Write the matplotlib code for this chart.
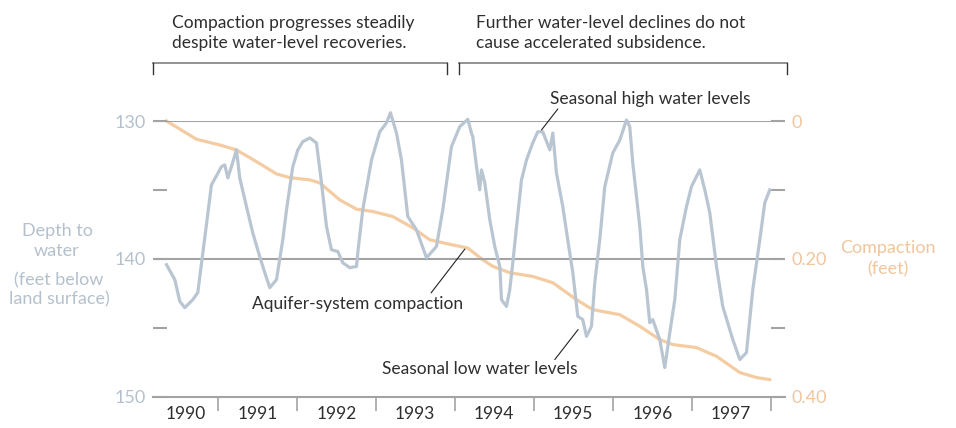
import matplotlib
matplotlib.use("Agg")
import matplotlib.pyplot as plt
import numpy as np

# ---------------- data ----------------
water_year = [1990.351, 1990.456, 1990.519, 1990.582, 1990.684, 1990.747, 1990.920,
              1991.047, 1991.089, 1991.127, 1991.173, 1991.237, 1991.278, 1991.363,
              1991.443, 1991.532, 1991.595, 1991.658, 1991.743, 1991.823, 1991.870,
              1991.949, 1992.013, 1992.076, 1992.165, 1992.249, 1992.313, 1992.376,
              1992.439, 1992.519, 1992.582, 1992.671, 1992.756, 1992.772, 1992.835,
              1992.946, 1993.051, 1993.135, 1993.186, 1993.262, 1993.325, 1993.405,
              1993.515, 1993.642, 1993.768, 1993.848, 1993.958, 1994.063, 1994.165,
              1994.211, 1994.228, 1994.275, 1994.316, 1994.338, 1994.380, 1994.443,
              1994.506, 1994.570, 1994.591, 1994.654, 1994.696, 1994.734, 1994.844,
              1994.908, 1994.987, 1995.051, 1995.114, 1995.203, 1995.241, 1995.287,
              1995.367, 1995.430, 1995.494, 1995.557, 1995.620, 1995.667, 1995.730,
              1995.772, 1995.835, 1995.899, 1996.000, 1996.089, 1996.173, 1996.215,
              1996.253, 1996.342, 1996.380, 1996.427, 1996.468, 1996.506, 1996.595,
              1996.658, 1996.722, 1996.785, 1996.848, 1996.933, 1996.996, 1997.101,
              1997.165, 1997.228, 1997.313, 1997.392, 1997.519, 1997.608, 1997.692,
              1997.772, 1997.861, 1997.924, 1997.987]
water_depth = [140.43, 141.52, 143.09, 143.55, 142.97, 142.46, 134.64,
               133.31, 133.19, 134.13, 133.31, 132.10, 134.13, 136.21,
               138.12, 139.86, 141.01, 142.10, 141.52, 138.62, 136.45,
               133.33, 132.10, 131.50, 131.23, 131.59, 134.49, 137.66,
               139.35, 139.47, 140.29, 140.65, 140.56, 139.57, 136.45,
               132.83, 130.78, 130.14, 129.40, 130.87, 132.83, 136.93,
               137.90, 139.93, 139.11, 136.45, 131.86, 130.41, 129.88,
               130.87, 131.14, 133.31, 135.00, 133.55, 134.49, 137.17,
               139.11, 140.56, 142.97, 143.46, 142.25, 140.29, 134.28,
               132.83, 131.59, 130.78, 130.78, 132.10, 130.87, 133.77,
               136.21, 138.62, 141.01, 144.18, 144.42, 145.63, 144.91,
               141.74, 138.62, 134.76, 132.32, 131.38, 129.93, 130.41,
               133.04, 137.66, 140.56, 142.25, 144.64, 144.42, 145.87,
               147.90, 145.36, 142.97, 138.62, 136.21, 134.76, 133.55,
               135.00, 136.67, 140.56, 143.46, 145.87, 147.32, 146.81,
               142.25, 138.62, 135.94, 135.00]

comp_year = [1990.351, 1990.730, 1991.025, 1991.237, 1991.490, 1991.743, 1991.911,
             1992.165, 1992.291, 1992.544, 1992.756, 1992.962, 1993.215, 1993.468,
             1993.684, 1993.895, 1994.165, 1994.354, 1994.481, 1994.696, 1994.987,
             1995.241, 1995.540, 1995.747, 1996.089, 1996.342, 1996.595, 1996.759,
             1997.059, 1997.313, 1997.608, 1997.819, 1997.987]
comp_feet = [0.000, 0.0265, 0.0348, 0.042, 0.059, 0.0768, 0.0822,
             0.0855, 0.0899, 0.1145, 0.128, 0.1314, 0.1387, 0.155,
             0.1725, 0.178, 0.1845, 0.2014, 0.211, 0.2203, 0.2257,
             0.2348, 0.2594, 0.2739, 0.2812, 0.2981, 0.3174, 0.3246,
             0.329, 0.3416, 0.3652, 0.3725, 0.3754]

year_labels = ["1990", "1991", "1992", "1993", "1994", "1995", "1996", "1997"]
year_label_pos = [1990.59, 1991.5, 1992.5, 1993.5, 1994.5, 1995.5, 1996.5, 1997.5]
year_ticks = [1991, 1992, 1993, 1994, 1995, 1996, 1997, 1998]
depth_ticks = [130, 135, 140, 145, 150]
depth_labels = ["130", "", "140", "", "150"]
comp_ticks = [0, 0.1, 0.2, 0.3, 0.4]
comp_labels = ["0", "", "0.20", "", "0.40"]

# ---------------- style ----------------
plt.rcParams['font.family'] = ['Lato', 'DejaVu Sans']
W, H = 956, 428
BLUE = '#b9c6d2'
BLUE_TXT = '#b4c1cd'
ORANGE = '#f4cca2'
ORANGE_TXT = '#f0c69c'
GRID = '#a3a3a3'
TXT = '#2e2e2e'
FS = 12.5

fig = plt.figure(figsize=(W / 100, H / 100), dpi=100)
def px(x, y):
    return (x / W, 1 - y / H)

ax = fig.add_axes([153 / W, 1 - 396.5 / H, (785 - 153) / W, (396.5 - 121) / H])
ax.set_xlim(1990.18, 1998.18)
ax.set_ylim(150, 130)
for s in ['top', 'left', 'right']:
    ax.spines[s].set_visible(False)
ax.spines['bottom'].set_color(GRID)
ax.spines['bottom'].set_linewidth(1.5)
ax.axhline(130, color=GRID, lw=1.5, zorder=1)
ax.axhline(140, color=GRID, lw=1.5, zorder=1)

ax.set_xticks(year_ticks)
ax.set_xticklabels([])
ax.set_xticks(year_label_pos, minor=True)
ax.set_xticklabels(year_labels, minor=True)
ax.tick_params(axis='x', which='major', direction='out', length=10, width=1.2, color=GRID)
ax.tick_params(axis='x', which='minor', length=0, pad=7, labelsize=FS, labelcolor=TXT)

ax.set_yticks(depth_ticks)
ax.set_yticklabels(depth_labels)
ax.tick_params(axis='y', direction='in', length=10, width=1.5, color=GRID,
               labelsize=FS + 0.5, labelcolor=BLUE_TXT, pad=5)

ax2 = ax.twinx()
ax2.set_ylim(0.4, 0)
for s in ['top', 'left', 'right', 'bottom']:
    ax2.spines[s].set_visible(False)
ax2.set_yticks(comp_ticks)
ax2.set_yticklabels(comp_labels)
ax2.tick_params(axis='y', direction='in', length=10, width=1.5, color=GRID,
                labelsize=FS + 0.5, labelcolor=ORANGE_TXT, pad=5)

ax.plot(water_year, water_depth, color=BLUE, lw=2.3, clip_on=False, zorder=3,
        solid_joinstyle='round')
ax2.plot(comp_year, comp_feet, color=ORANGE, lw=2.3, clip_on=False, zorder=2,
         solid_joinstyle='round')
ax.set_zorder(ax2.get_zorder() + 1)
ax.patch.set_visible(False)

# ---------------- annotations ----------------
line_kw = dict(arrowstyle='-', lw=0.8, color='#222222', shrinkA=0, shrinkB=0)
ax.annotate('', xy=(1995.098, 130.65), xytext=(1995.304, 129.13),
            arrowprops=line_kw, annotation_clip=False)
ax.annotate('', xy=(1994.127, 139.30), xytext=(1993.700, 142.48),
            arrowprops=line_kw, annotation_clip=False)
ax.annotate('', xy=(1995.561, 145.14), xytext=(1995.266, 147.32),
            arrowprops=line_kw, annotation_clip=False)

fig.text(*px(650, 99), "Seasonal high water levels", ha='center', va='center',
         fontsize=FS, color=TXT)
fig.text(*px(358, 304), "Aquifer-system compaction", ha='center', va='center',
         fontsize=FS, color=TXT)
fig.text(*px(480, 369), "Seasonal low water levels", ha='center', va='center',
         fontsize=FS, color=TXT)

fig.text(*px(172, 33), "Compaction progresses steadily\ndespite water-level recoveries.",
         ha='left', va='center', fontsize=FS, color=TXT, linespacing=1.3)
fig.text(*px(476, 33), "Further water-level declines do not\ncause accelerated subsidence.",
         ha='left', va='center', fontsize=FS, color=TXT, linespacing=1.3)

# brackets
from matplotlib.lines import Line2D
for x0, x1 in [(153.3, 446.7), (459.3, 786.7)]:
    fig.add_artist(Line2D([x0 / W, x1 / W], [1 - 62.7 / H] * 2, color='#8a8a8a', lw=1.3))
    for xx in (x0, x1):
        fig.add_artist(Line2D([xx / W] * 2, [1 - 62.7 / H, 1 - 74 / H], color='#333333', lw=1.0))

fig.text(*px(57, 241), "Depth to\nwater", ha='center', va='center',
         fontsize=FS + 0.5, color=BLUE_TXT, linespacing=1.25)
fig.text(*px(59, 290), "(feet below\nland surface)", ha='center', va='center',
         fontsize=FS + 0.5, color=BLUE_TXT, linespacing=1.25)
fig.text(*px(888, 259), "Compaction\n(feet)", ha='center', va='center',
         fontsize=FS + 0.5, color=ORANGE_TXT, linespacing=1.4)

fig.savefig("out.png", dpi=100)
